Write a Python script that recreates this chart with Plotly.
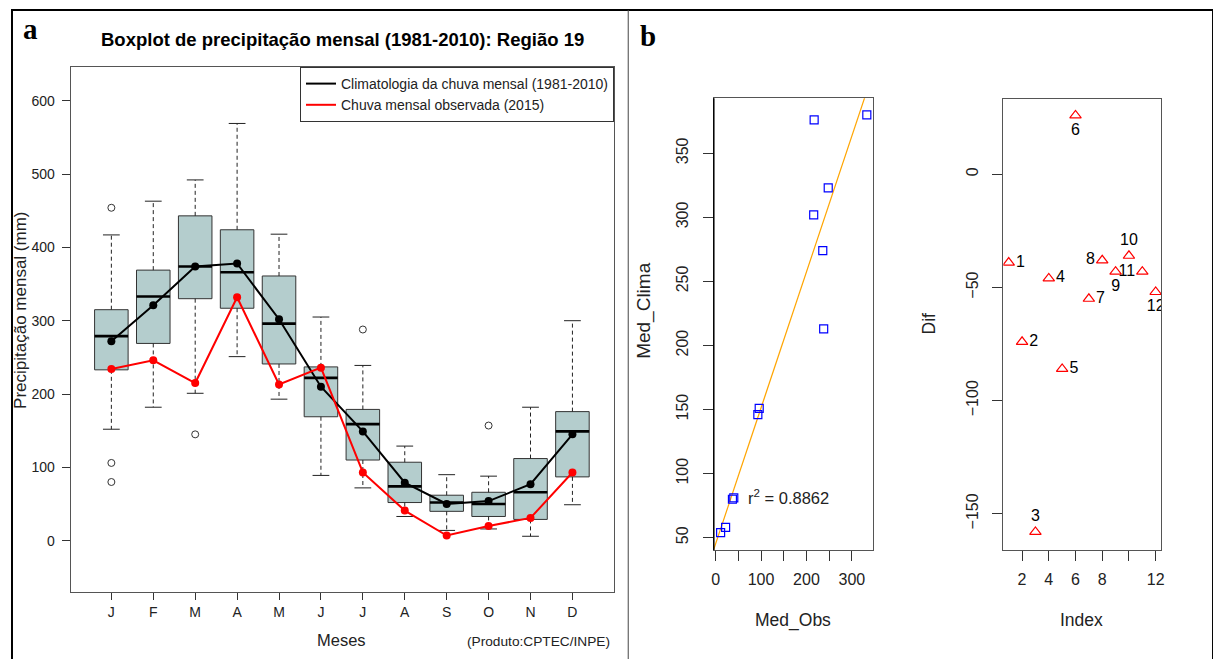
import numpy as np
import plotly.graph_objects as go

# The page body has an 8px margin, so the figure is drawn 8px right/down.
OFF = 8
W, H = 1221 - OFF, 659 - OFF


def px(x):
    return (x - OFF) / W


def py(y):
    return 1 - (y - OFF) / H


# ---------------- Panel a: boxplot data (mm) ----------------
months = ["J", "F", "M", "A", "M", "J", "J", "A", "S", "O", "N", "D"]
month_idx = list(range(1, 13))
q1 = [233, 269, 330, 317, 241, 169, 110, 52, 40, 33, 29, 87]
median = [279, 333, 374, 366, 296, 222, 159, 74, 52, 50, 66, 149]
q3 = [315, 369, 443, 424, 361, 237, 179, 107, 62, 66, 112, 176]
lower_whisker = [152, 182, 201, 251, 193, 89, 72, 33, 14, 16, 6, 49]
upper_whisker = [417, 463, 492, 569, 418, 305, 239, 129, 90, 88, 182, 300]
outlier_month = [1, 1, 1, 3, 7, 10]
outlier_value = [454, 106, 80, 145, 288, 157]
clim_mean = [272, 321, 374, 378, 302, 210, 149, 79, 50, 54, 77, 145]
obs_2015 = [234, 246, 215, 332, 213, 236, 93, 41, 7, 20, 31, 93]

# ---------------- Panel b data ----------------
med_obs = [236, 248, 217, 333, 216, 238, 96, 40, 11, 22, 37, 93]
med_clima = [274, 323, 376, 380, 302, 213, 151, 81, 54, 58, 80, 146]
r2_text = "0.8862"
index = list(range(1, 13))
dif = [-39, -74, -158, -46, -86, 26, -55, -38, -43, -36, -43, -52]
dif_label_pos = ["middle right", "middle right", "top center", "middle right",
                 "middle right", "bottom center", "middle right", "middle left",
                 "bottom center", "top center", "middle left", "bottom center"]

FONT = "Liberation Sans, Arial, sans-serif"
BOX_HALF = 0.4
CAP_HALF = 0.2

fig = go.Figure()

# boxes
fig.add_trace(go.Bar(
    x=month_idx, y=[b - a for a, b in zip(q1, q3)], base=q1, width=2 * BOX_HALF,
    marker=dict(color="#B4CDCD", line=dict(color="#333333", width=1)),
    showlegend=False, hoverinfo="skip", xaxis="x", yaxis="y"))

# medians
mx, my = [], []
for m, v in zip(month_idx, median):
    mx += [m - BOX_HALF, m + BOX_HALF, None]
    my += [v, v, None]
fig.add_trace(go.Scatter(x=mx, y=my, mode="lines", line=dict(color="black", width=2.6),
                         showlegend=False, hoverinfo="skip", xaxis="x", yaxis="y"))

# whiskers (dashed)
wx, wy = [], []
for m, a, b, lo, hi in zip(month_idx, q1, q3, lower_whisker, upper_whisker):
    wx += [m, m, None, m, m, None]
    wy += [b, hi, None, a, lo, None]
fig.add_trace(go.Scatter(x=wx, y=wy, mode="lines",
                         line=dict(color="#222222", width=1, dash="4px,3px"),
                         showlegend=False, hoverinfo="skip", xaxis="x", yaxis="y"))

# staples
sx, sy = [], []
for m, lo, hi in zip(month_idx, lower_whisker, upper_whisker):
    sx += [m - CAP_HALF, m + CAP_HALF, None, m - CAP_HALF, m + CAP_HALF, None]
    sy += [hi, hi, None, lo, lo, None]
fig.add_trace(go.Scatter(x=sx, y=sy, mode="lines", line=dict(color="#222222", width=1),
                         showlegend=False, hoverinfo="skip", xaxis="x", yaxis="y"))

# outliers
fig.add_trace(go.Scatter(x=outlier_month, y=outlier_value, mode="markers",
                         marker=dict(symbol="circle-open", size=7, color="#333333",
                                     line=dict(width=1)),
                         showlegend=False, xaxis="x", yaxis="y"))

# climatology mean and observed 2015
fig.add_trace(go.Scatter(x=month_idx, y=clim_mean, mode="lines+markers",
                         line=dict(color="black", width=2),
                         marker=dict(color="black", size=8),
                         showlegend=False, xaxis="x", yaxis="y"))
fig.add_trace(go.Scatter(x=month_idx, y=obs_2015, mode="lines+markers",
                         line=dict(color="#FF0000", width=2),
                         marker=dict(color="#FF0000", size=8),
                         showlegend=False, xaxis="x", yaxis="y"))

# legend entries (lines only, like R legend)
fig.add_trace(go.Scatter(x=[None], y=[None], mode="lines",
                         line=dict(color="black", width=2),
                         name="Climatologia da chuva mensal (1981-2010)",
                         xaxis="x", yaxis="y"))
fig.add_trace(go.Scatter(x=[None], y=[None], mode="lines",
                         line=dict(color="#FF0000", width=2),
                         name="Chuva mensal observada (2015)",
                         xaxis="x", yaxis="y"))

# ---------------- Panel b: Med_Obs vs Med_Clima ----------------
slope, intercept = np.polyfit(med_obs, med_clima, 1)
line_x = [-50, 450]
fig.add_trace(go.Scatter(x=line_x, y=[intercept + slope * v for v in line_x], mode="lines",
                         line=dict(color="#FFA500", width=1.2),
                         showlegend=False, hoverinfo="skip", xaxis="x2", yaxis="y2"))
fig.add_trace(go.Scatter(x=med_obs, y=med_clima, mode="markers",
                         marker=dict(symbol="square-open", size=8, color="#0000FF",
                                     line=dict(width=1.2)),
                         showlegend=False, xaxis="x2", yaxis="y2"))

# ---------------- Panel b: Index vs Dif ----------------
fig.add_trace(go.Scatter(x=index, y=dif, mode="markers+text",
                         text=[str(i) for i in index], textposition=dif_label_pos,
                         textfont=dict(family=FONT, size=16, color="black"),
                         marker=dict(symbol="triangle-up-open", size=10, color="#FF0000",
                                     line=dict(width=1.2)),
                         showlegend=False, xaxis="x3", yaxis="y3"))

axis_common = dict(showgrid=False, zeroline=False, showline=True, mirror=True,
                   linecolor="#555555", linewidth=1, ticks="outside",
                   tickcolor="#333333")

fig.update_layout(
    width=W, height=H, margin=dict(l=0, r=0, t=0, b=0),
    paper_bgcolor="white", plot_bgcolor="white",
    font=dict(family=FONT, color="#222222"),
    showlegend=True,
    legend=dict(x=px(614), y=py(67), xanchor="right", yanchor="top",
                bordercolor="#333333", borderwidth=1, bgcolor="white",
                font=dict(size=14, family=FONT, color="#222222"),
                tracegroupgap=0, itemwidth=30),
    xaxis=dict(domain=[px(68), px(613.5)], range=[0.03, 12.98],
               tickvals=month_idx, ticktext=months, ticklen=7,
               tickfont=dict(size=14), anchor="y", **axis_common),
    yaxis=dict(domain=[py(592), py(67)], range=[-70, 646],
               tickvals=[0, 100, 200, 300, 400, 500, 600], ticklen=8,
               tickfont=dict(size=14), ticklabelstandoff=4, anchor="x", **axis_common),
    xaxis2=dict(domain=[px(714.3), px(874)], range=[-4, 346],
                tickvals=[0, 100, 200, 300], ticklen=10,
                minor=dict(tickmode="array", tickvals=[50, 150, 250], ticks="outside",
                           ticklen=10, tickcolor="#333333"),
                tickfont=dict(size=16), ticklabelstandoff=5, anchor="y2", **axis_common),
    yaxis2=dict(domain=[py(550), py(98.3)], range=[40.4, 392.9],
                tickvals=[50, 100, 150, 200, 250, 300, 350], ticklen=10,
                tickangle=-90, tickfont=dict(size=16), ticklabelstandoff=8,
                anchor="x2", **axis_common),
    xaxis3=dict(domain=[px(1005.3), px(1164)], range=[0.6, 12.42],
                tickvals=[2, 4, 6, 8, 12], ticklen=10,
                minor=dict(tickmode="array", tickvals=[10], ticks="outside",
                           ticklen=10, tickcolor="#333333"),
                tickfont=dict(size=16), ticklabelstandoff=5,
                anchor="y3", **axis_common),
    yaxis3=dict(domain=[py(550), py(98.7)], range=[-166, 33.4],
                tickvals=[-150, -100, -50, 0], ticklen=10, tickangle=-90,
                tickfont=dict(size=16), ticklabelstandoff=8,
                anchor="x3", **axis_common),
)

ann = []


def add_text(text, x, y, size, **kw):
    d = dict(text=text, x=px(x), y=py(y), xref="paper", yref="paper",
             showarrow=False, font=dict(family=kw.pop("family", FONT), size=size,
                                        color=kw.pop("color", "#222222")))
    d.update(kw)
    ann.append(d)


SERIF = "Liberation Serif, Times New Roman, serif"
add_text("<b>a</b>", 28, 29, 29, color="black", family=SERIF,
         xanchor="center", yanchor="middle")
add_text("<b>b</b>", 648, 36, 29, color="black", family=SERIF,
         xanchor="center", yanchor="middle")
add_text("<b>Boxplot de precipitação mensal (1981-2010): Região 19</b>", 341, 39, 18.5,
         color="black", xanchor="center", yanchor="middle")
add_text("Precipitação mensal (mm)", 17, 310, 17, textangle=-90,
         xanchor="center", yanchor="middle")
add_text("Meses", 340, 640, 16.5, xanchor="center", yanchor="middle")
add_text("(Produto:CPTEC/INPE)", 612, 641, 13.7, xanchor="right", yanchor="middle")
add_text("Med_Clima", 644, 310, 19, textangle=-90, xanchor="center", yanchor="middle")
add_text("Med_Obs", 794, 620, 17.5, xanchor="center", yanchor="middle")
add_text("Dif", 931, 323, 17.5, textangle=-90, xanchor="center", yanchor="middle")
add_text("Index", 1084, 620, 17.5, xanchor="center", yanchor="middle")
ann.append(dict(text="r<sup>2</sup> = " + r2_text, x=68, y=82, xref="x2", yref="y2",
                xanchor="left", yanchor="middle", showarrow=False,
                font=dict(family=FONT, size=16.5, color="#222222")))
fig.update_layout(annotations=ann)

# panel frames
shapes = [
    dict(type="line", xref="paper", yref="paper", x0=px(8), x1=px(1216.5), y0=py(10), y1=py(10),
         line=dict(color="black", width=2)),
    dict(type="line", xref="paper", yref="paper", x0=px(9), x1=px(9), y0=py(10), y1=py(662),
         line=dict(color="black", width=2)),
    dict(type="line", xref="paper", yref="paper", x0=px(1216), x1=px(1216), y0=py(10), y1=py(662),
         line=dict(color="black", width=2)),
    dict(type="line", xref="paper", yref="paper", x0=px(628.3), x1=px(628.3), y0=py(10), y1=py(662),
         line=dict(color="#444444", width=1)),
    # darker left axis of the scatter panel
    dict(type="line", xref="paper", yref="paper", x0=px(714.3), x1=px(714.3),
         y0=py(550), y1=py(98.3), line=dict(color="black", width=1.5)),
]
fig.update_layout(shapes=shapes)

fig.write_html("out.html")
